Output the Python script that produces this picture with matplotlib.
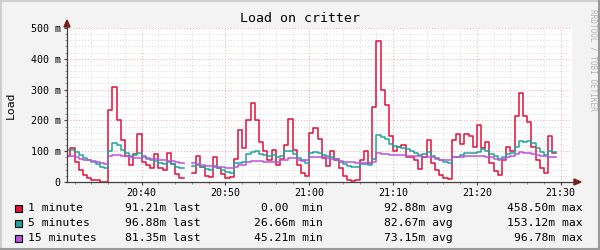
import numpy as np
import matplotlib
matplotlib.use("Agg")
import matplotlib.pyplot as plt
from matplotlib.patches import Polygon, Rectangle
from matplotlib.lines import Line2D
from matplotlib.ticker import FixedLocator, FuncFormatter

nan = np.nan

# samples every 30 s, time in minutes after 20:00
start_min = 31.0
step_min = 0.5

load_1min = [
    85, 110, 65, 38, 22, 12, 8, 5, 1, 0,
    235, 310, 200, 135, 85, 55, 90, 155, 65, 55,
    45, 90, 45, 40, 95, 60, 25, 12, nan, nan,
    30, 85, 50, 20, 17, 80, 45, 25, 13, 15,
    75, 170, 110, 200, 255, 200, 130, 100, 70, 105,
    55, 75, 120, 205, 105, 55, 30, 18, 160, 175,
    140, 78, 52, 100, 72, 45, 18, 6, 2, 5,
    70, 100, 62, 245, 458.5, 300, 250, 150, 100, 115,
    120, 80, 80, 70, 42, 80, 135, 62, 38, 22,
    13, 9, 135, 155, 125, 155, 150, 115, 185, 110,
    130, 62, 35, 22, 70, 115, 100, 215, 290, 215,
    195, 115, 70, 45, 30, 150, 95,
]
load_5min = [
    105, 105, 98, 88, 78, 72, 65, 58, 50, 45,
    100, 128, 120, 105, 95, 85, 88, 95, 82, 76,
    70, 68, 62, 60, 65, 58, 50, 46, nan, nan,
    52, 55, 48, 42, 40, 52, 45, 38, 32, 28,
    62, 62, 65, 90, 98, 100, 91, 88, 83, 87,
    80, 85, 100, 102, 90, 78, 72, 62, 93, 97,
    93, 88, 84, 80, 74, 66, 60, 53, 50, 48,
    57, 60, 54, 75, 153, 145, 139, 123, 117, 115,
    109, 106, 102, 93, 88, 90, 96, 84, 77, 71,
    66, 62, 80, 82, 88, 95, 93, 93, 98, 108,
    102, 91, 84, 76, 80, 90, 95, 115, 132, 130,
    132, 128, 112, 96, 88, 100, 97,
]
load_15min = [
    84, 83, 80, 76, 73, 70, 67, 64, 62, 60,
    84, 89, 89, 86, 84, 80, 78, 78, 86, 78,
    76, 74, 72, 70, 69, 67, 65, 63, nan, nan,
    61, 60, 54, 53, 52, 50, 50, 49, 47, 45,
    50, 55, 56, 66, 69, 69, 67, 66, 66, 66,
    66, 71, 73, 79, 79, 70, 69, 71, 80, 81,
    81, 81, 78, 75, 75, 68, 65, 64, 64, 61,
    61, 61, 62, 66, 93, 91, 90, 89, 88, 88,
    87, 85, 85, 84, 83, 82, 82, 80, 76, 72,
    72, 71, 80, 80, 81, 84, 84, 84, 85, 84,
    80, 80, 75, 73, 74, 80, 83, 90, 97, 95,
    93, 90, 87, 84, 83, 82, 81,
]

series_names = ["1 minute", "5 minutes", "15 minutes"]
series_colors = ["#E2103C", "#1DA59B", "#BA55DA"]
last_vals = ["91.21m", "96.88m", "81.35m"]
min_vals = ["0.00 ", "26.66m", "45.21m"]
avg_vals = ["92.88m", "82.67m", "73.15m"]
max_vals = ["458.50m", "153.12m", "96.78m"]

x_ticks = [40, 50, 60, 70, 80, 90]
y_ticks = [0, 100, 200, 300, 400, 500]

W, H = 600, 250
MONO = "DejaVu Sans Mono"


def fx(px):
    return px / W


def fy(py):
    return 1 - py / H


fig = plt.figure(figsize=(6, 2.5), dpi=100, facecolor="#F3F3F3")
ax = fig.add_axes([fx(67), fy(182), 505 / W, 154 / H])
ax.set_facecolor("white")
x0, x1 = 31.09, 91.35
ax.set_xlim(x0, x1)
ax.set_ylim(0, 500)

# grid, minor grey / major pink, both dotted
for v in range(20, 501, 20):
    c = "#F2A6A6" if v % 100 == 0 else "#DADADA"
    ax.axhline(v, color=c, lw=0.7, ls=(0, (1, 2)), zorder=0)
for v in range(32, 92, 2):
    c = "#F2A6A6" if v % 10 == 0 else "#DADADA"
    ax.axvline(v, color=c, lw=0.7, ls=(0, (1, 2)), zorder=0)

t = start_min + step_min * np.arange(len(load_1min) + 1)
for vals, color in zip([load_1min, load_5min, load_15min], series_colors):
    v = np.array(vals, dtype=float)
    ax.step(t, np.append(v, v[-1]), where="post", color=color, lw=1.1, zorder=3)

for s in ["top", "right", "left", "bottom"]:
    ax.spines[s].set_visible(False)

ax.xaxis.set_major_locator(FixedLocator(x_ticks))
ax.xaxis.set_major_formatter(FuncFormatter(lambda v, p: f"{20 + int(v) // 60}:{int(v) % 60:02d}"))
ax.xaxis.set_minor_locator(FixedLocator(list(range(32, 92, 2))))
ax.yaxis.set_major_locator(FixedLocator(y_ticks))
ax.yaxis.set_major_formatter(FuncFormatter(lambda v, p: "0" if v == 0 else f"{int(v)} m"))
ax.yaxis.set_minor_locator(FixedLocator(list(range(20, 500, 20))))
ax.tick_params(which="major", length=2.5, width=0.8, color="#404040", labelsize=7.2, pad=2)
ax.tick_params(which="minor", length=1.5, width=0.6, color="#808080")
for lab in ax.get_xticklabels() + ax.get_yticklabels():
    lab.set_fontfamily(MONO)

# axes lines with arrows
fig.add_artist(Line2D([fx(67), fx(67)], [fy(182), fy(24)], color="#404040", lw=0.9))
fig.add_artist(Line2D([fx(67), fx(576)], [fy(182), fy(182)], color="#404040", lw=0.9))
fig.add_artist(Polygon([[fx(67), fy(20)], [fx(64), fy(27)], [fx(70), fy(27)]],
                       closed=True, color="#7E1A1A", transform=fig.transFigure))
fig.add_artist(Polygon([[fx(581), fy(182)], [fx(574), fy(179)], [fx(574), fy(185)]],
                       closed=True, color="#7E1A1A", transform=fig.transFigure))

fig.text(0.5, fy(18), "Load on critter", ha="center", va="center",
         fontsize=9.5, family=MONO)
fig.text(fx(11), fy(105), "Load", ha="center", va="center", rotation=90,
         fontsize=8.2, family=MONO)
fig.text(fx(593), fy(60), "RRDTOOL / TOBI OETIKER", ha="center", va="center",
         rotation=270, fontsize=5.6, family=MONO, color="#B4B4B4")

rows_y = [208, 223, 238]
for i, name in enumerate(series_names):
    y = fy(rows_y[i])
    fig.add_artist(Rectangle((fx(15), y - 3.5 / H), 7 / W, 7 / H, facecolor=series_colors[i],
                             edgecolor="black", lw=0.8, transform=fig.transFigure))
    fig.text(fx(28), y, name, ha="left", va="center", fontsize=8.2, family=MONO)
    fig.text(fx(201), y, f"{last_vals[i]} last", ha="right", va="center", fontsize=8.2, family=MONO)
    fig.text(fx(323), y, f"{min_vals[i]} min", ha="right", va="center", fontsize=8.2, family=MONO)
    fig.text(fx(453), y, f"{avg_vals[i]} avg", ha="right", va="center", fontsize=8.2, family=MONO)
    fig.text(fx(583), y, f"{max_vals[i]} max", ha="right", va="center", fontsize=8.2, family=MONO)

# 3d-ish outer frame
fig.add_artist(Line2D([0, 1], [fy(1), fy(1)], color="#CFCFCF", lw=1.5))
fig.add_artist(Line2D([fx(1), fx(1)], [0, 1], color="#CFCFCF", lw=1.5))
fig.add_artist(Line2D([0, 1], [fy(249), fy(249)], color="#9A9A9A", lw=1.5))
fig.add_artist(Line2D([fx(599), fx(599)], [0, 1], color="#9A9A9A", lw=1.5))

fig.savefig("out.png", dpi=100, facecolor=fig.get_facecolor())
